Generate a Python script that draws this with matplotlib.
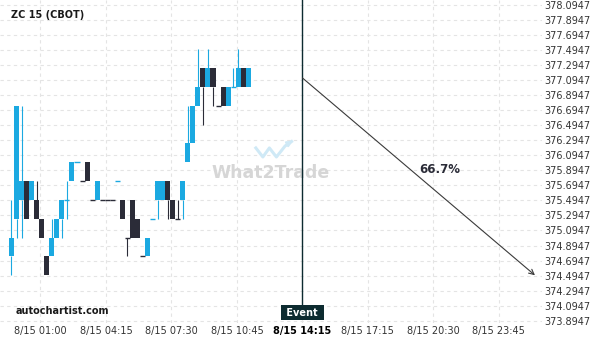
#!/usr/bin/env python
import matplotlib
matplotlib.use('Agg')
import matplotlib.pyplot as plt

# 15 min candles of ZC 15 (CBOT)
opens = [374.75, 375.25, 375.5, 375.75, 375.5, 375.5, 375.25, 374.75, 374.75, 375.0,
         375.25, 375.5, 375.75, 376.0, 375.75, 376.0, 375.5, 375.5, 375.5, 375.5,
         375.5, 375.75, 375.5, 375.0, 375.5, 375.25, 374.75, 374.75, 375.25, 375.5,
         375.5, 375.75, 375.5, 375.25, 375.5, 376.0, 376.25, 376.75, 377.25, 377.0,
         377.25, 376.75, 377.0, 376.75, 377.0, 377.0, 377.25, 377.0]
highs = [375.5, 376.75, 376.75, 375.75, 375.75, 375.75, 375.25, 374.75, 375.25, 375.25,
         375.5, 375.75, 376.0, 376.0, 375.75, 376.0, 375.5, 375.75, 375.5, 375.5,
         375.5, 375.75, 375.5, 375.0, 375.5, 375.25, 374.75, 375.0, 375.25, 375.75,
         375.75, 375.75, 375.5, 375.5, 375.75, 376.75, 376.75, 377.5, 377.25, 377.5,
         377.25, 376.75, 377.0, 377.0, 377.25, 377.5, 377.25, 377.25]
lows = [374.5, 375.0, 375.0, 375.25, 375.5, 375.25, 375.0, 374.5, 374.75, 375.0,
        375.0, 375.25, 375.75, 376.0, 375.75, 375.75, 375.5, 375.5, 375.5, 375.5,
        375.5, 375.75, 375.25, 374.75, 375.0, 375.0, 374.75, 374.75, 375.25, 375.25,
        375.5, 375.25, 375.25, 375.25, 375.25, 376.0, 376.25, 376.75, 376.5, 377.0,
        376.75, 376.75, 376.75, 376.75, 377.0, 377.0, 377.0, 377.0]
closes = [375.0, 376.75, 375.75, 375.25, 375.75, 375.25, 375.0, 374.5, 375.0, 375.25,
          375.5, 375.5, 376.0, 376.0, 375.75, 375.75, 375.5, 375.75, 375.5, 375.5,
          375.5, 375.75, 375.25, 375.0, 375.0, 375.0, 374.75, 375.0, 375.25, 375.75,
          375.75, 375.5, 375.25, 375.25, 375.75, 376.25, 376.75, 377.0, 377.0, 377.25,
          377.0, 376.75, 376.75, 377.0, 377.0, 377.25, 377.0, 377.25]
# u = up candle (blue), d = down candle (dark), needed for the flat ones
dirs = ['u', 'u', 'u', 'd', 'u', 'd', 'd', 'd', 'u', 'u',
        'u', 'u', 'u', 'u', 'd', 'd', 'd', 'u', 'd', 'd',
        'd', 'u', 'd', 'd', 'd', 'd', 'd', 'u', 'u', 'u',
        'u', 'd', 'd', 'd', 'u', 'u', 'u', 'u', 'd', 'u',
        'd', 'd', 'd', 'u', 'u', 'u', 'd', 'u']

tick_pos = [5.75, 18.75, 31.75, 44.75, 57.75, 70.75, 83.75, 96.75]
tick_labels = ['8/15 01:00', '8/15 04:15', '8/15 07:30', '8/15 10:45',
               '8/15 14:15', '8/15 17:15', '8/15 20:30', '8/15 23:45']
event_pos = 57.75
price_ticks = [373.8947 + 0.2 * i for i in range(22)]

# forecast arrow
arrow_start = 377.12
arrow_end_pos = 103.9
arrow_end = 374.5
prob_label = '66.7%'

BLUE = '#1ba9e1'
DARK = '#2b2c38'
EVENT = '#0d2b30'


def main():
  fig = plt.figure(figsize=(6.0, 3.4), dpi=100)
  ax = fig.add_axes([0.0, 1 - 323 / 340.0, 542 / 600.0, 323 / 340.0])

  xs = list(range(len(opens)))
  width = 1.0
  for x, o, h, l, c, d in zip(xs, opens, highs, lows, closes, dirs):
    col = BLUE if d == 'u' else DARK
    lo_b, hi_b = min(o, c), max(o, c)
    if h > hi_b:
      ax.vlines(x, hi_b, h, color=col, lw=0.8, zorder=3)
    if l < lo_b:
      ax.vlines(x, l, lo_b, color=col, lw=0.8, zorder=3)
    if hi_b > lo_b:
      ax.bar(x, hi_b - lo_b, width, bottom=lo_b, color=col, lw=0, zorder=3)
    else:
      ax.hlines(o, x - width / 2, x + width / 2, color=col, lw=1.0, zorder=3)

  ax.set_xlim(-2.28, 105.3)
  ax.set_ylim(373.866, 378.155)

  ax.set_xticks(tick_pos)
  ax.set_xticklabels(tick_labels)
  ax.set_yticks(price_ticks)
  ax.set_yticklabels(['%.4f' % v for v in price_ticks])
  ax.yaxis.tick_right()
  ax.tick_params(axis='both', length=0, labelsize=7, labelcolor='#333333')
  ax.tick_params(axis='x', pad=2.5)
  ax.tick_params(axis='y', pad=1.5)
  for lab in ax.get_xticklabels():
    if lab.get_text() == '8/15 14:15':
      lab.set_fontweight('bold')
      lab.set_color('black')

  ax.grid(True, color='#e4e4e4', lw=0.8, ls=(0, (3, 3)))
  ax.set_axisbelow(True)
  for s in ax.spines.values():
    s.set_visible(False)

  # event marker
  ax.axvline(event_pos, ymin=0.053, ymax=1, color=EVENT, lw=1.0, zorder=4)
  ax.text(event_pos, 374.0, ' Event ', ha='center', va='center', fontsize=7,
          fontweight='bold', color='white', zorder=5,
          bbox=dict(boxstyle='square,pad=0.25', fc=EVENT, ec='none'))

  # forecast arrow
  ax.annotate('', xy=(arrow_end_pos, arrow_end), xytext=(event_pos, arrow_start),
              arrowprops=dict(arrowstyle='->', color='#3a3a3a', lw=0.8,
                              shrinkA=0, shrinkB=0, mutation_scale=9),
              zorder=4)
  ax.text(85.0, 375.91, prob_label, ha='center', va='center', fontsize=8.5,
          fontweight='bold', color=DARK, zorder=5)

  # watermark
  ax.text(0.5, 0.464, 'What2Trade', transform=ax.transAxes, ha='center',
          va='center', fontsize=12.5, fontweight='bold', color='#d6d6d6', zorder=1)
  ax.plot([0.472, 0.485, 0.497, 0.510, 0.526, 0.538],
          [0.542, 0.514, 0.542, 0.514, 0.548, 0.562],
          transform=ax.transAxes, color='#cfe9f6', lw=2.2, zorder=1)
  ax.annotate('', xy=(0.545, 0.568), xytext=(0.528, 0.552),
              xycoords='axes fraction',
              arrowprops=dict(arrowstyle='-|>', color='#cfe9f6', lw=1.5,
                              mutation_scale=8), zorder=1)

  fig.text(11 / 600.0, 1 - 14.5 / 340.0, 'ZC 15 (CBOT)', ha='left', va='center',
           fontsize=7, fontweight='bold', color='#1a1a1a')
  fig.text(16 / 600.0, 1 - 311 / 340.0, 'autochartist.com', ha='left',
           va='center', fontsize=7, fontweight='bold', color='#1a1a1a')

  fig.savefig('out.png', dpi=100)


if __name__ == '__main__':
  main()
